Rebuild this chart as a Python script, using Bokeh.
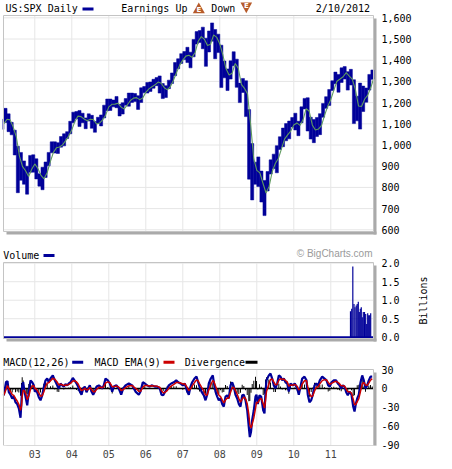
import numpy as np
import pandas as pd
from bokeh.plotting import figure
from bokeh.layouts import column, row
from bokeh.models import Range1d, FixedTicker, NumeralTickFormatter, LinearAxis
from bokeh.core.properties import value
from bokeh.embed import file_html
from bokeh.resources import INLINE

# ---------------- data ----------------
months = pd.period_range("2002-02", "2012-02", freq="M").strftime("%Y-%m").tolist()

price_high = [1122, 1173, 1147, 1107, 1070, 994, 965, 925, 900, 951, 954,
              935, 864, 895, 920, 965, 1015, 1015, 1011, 1040, 1053, 1063, 1112,
              1155, 1158, 1163, 1150, 1128, 1147, 1140, 1111, 1131, 1142, 1188, 1217,
              1217, 1212, 1229, 1192, 1199, 1219, 1245, 1245, 1243, 1233, 1270, 1276,
              1295, 1297, 1310, 1318, 1326, 1290, 1280, 1306, 1340, 1389, 1407, 1431,
              1441, 1461, 1438, 1498, 1535, 1540, 1556, 1504, 1538, 1576, 1545, 1523,
              1471, 1396, 1359, 1397, 1440, 1405, 1292, 1314, 1303, 1167, 1007, 919,
              944, 877, 833, 875, 930, 957, 997, 1039, 1080, 1101, 1113, 1130,
              1150, 1112, 1180, 1220, 1223, 1131, 1120, 1130, 1148, 1196, 1228, 1262,
              1303, 1344, 1333, 1364, 1370, 1346, 1357, 1308, 1230, 1292, 1278, 1269,
              1333, 1354]
price_low = [1074, 1106, 1063, 1048, 953, 775, 834, 815, 768, 872, 872,
             840, 806, 789, 847, 902, 963, 962, 960, 990, 996, 1031, 1053,
             1105, 1124, 1087, 1105, 1077, 1113, 1079, 1060, 1101, 1090, 1128, 1162,
             1163, 1180, 1176, 1137, 1146, 1188, 1183, 1201, 1205, 1168, 1201, 1246,
             1245, 1253, 1268, 1280, 1245, 1219, 1224, 1266, 1290, 1327, 1360, 1385,
             1403, 1389, 1364, 1416, 1476, 1484, 1454, 1371, 1439, 1490, 1407, 1436,
             1271, 1317, 1257, 1311, 1374, 1272, 1200, 1248, 1134, 839, 741, 815,
             804, 731, 667, 783, 863, 889, 869, 979, 992, 1020, 1029, 1085,
             1071, 1044, 1105, 1170, 1066, 1028, 1011, 1040, 1049, 1131, 1173, 1187,
             1257, 1289, 1249, 1295, 1311, 1259, 1283, 1101, 1114, 1075, 1158, 1202,
             1259, 1310]
price_close = [1106, 1147, 1076, 1067, 990, 912, 916, 815, 885, 936, 880,
               855, 841, 848, 916, 964, 975, 990, 1008, 996, 1051, 1058, 1112,
               1131, 1145, 1126, 1107, 1121, 1141, 1102, 1104, 1115, 1130, 1174, 1212,
               1181, 1204, 1181, 1157, 1191, 1191, 1234, 1220, 1228, 1207, 1249, 1248,
               1280, 1281, 1295, 1311, 1270, 1270, 1277, 1304, 1336, 1378, 1401, 1418,
               1438, 1407, 1421, 1482, 1531, 1503, 1455, 1474, 1527, 1549, 1481, 1468,
               1379, 1331, 1323, 1386, 1400, 1280, 1267, 1283, 1166, 969, 896, 903,
               826, 735, 798, 873, 919, 919, 987, 1021, 1057, 1036, 1096, 1115,
               1074, 1104, 1169, 1187, 1089, 1031, 1102, 1049, 1141, 1183, 1181, 1258,
               1286, 1327, 1326, 1364, 1345, 1321, 1292, 1219, 1131, 1253, 1247, 1258,
               1312, 1343]

macd_dates = [2002.162, 2002.222, 2002.262, 2002.297, 2002.343, 2002.389, 2002.432, 2002.478,
              2002.524, 2002.568, 2002.614, 2002.641, 2002.659, 2002.686, 2002.722, 2002.768,
              2002.795, 2002.838, 2002.884, 2002.930, 2002.973, 2003.000, 2003.046, 2003.108,
              2003.154, 2003.200, 2003.243, 2003.289, 2003.335, 2003.378, 2003.424, 2003.487,
              2003.541, 2003.605, 2003.649, 2003.695, 2003.741, 2003.784, 2003.830, 2003.876,
              2003.919, 2003.965, 2004.027, 2004.073, 2004.127, 2004.173, 2004.216, 2004.262,
              2004.308, 2004.351, 2004.397, 2004.443, 2004.487, 2004.532, 2004.578, 2004.622,
              2004.668, 2004.730, 2004.776, 2004.822, 2004.865, 2004.911, 2004.973, 2005.027,
              2005.092, 2005.135, 2005.208, 2005.270, 2005.335, 2005.389, 2005.451, 2005.541,
              2005.632, 2005.722, 2005.811, 2005.857, 2005.919, 2005.973, 2006.038, 2006.100,
              2006.173, 2006.243, 2006.308, 2006.378, 2006.424, 2006.470, 2006.514, 2006.578,
              2006.622, 2006.687, 2006.757, 2006.822, 2006.876, 2006.938, 2007.000, 2007.054,
              2007.119, 2007.162, 2007.208, 2007.254, 2007.316, 2007.370, 2007.416, 2007.451,
              2007.505, 2007.568, 2007.614, 2007.659, 2007.703, 2007.757, 2007.811, 2007.838,
              2007.884, 2007.930, 2007.973, 2008.019, 2008.065, 2008.108, 2008.154, 2008.200,
              2008.243, 2008.289, 2008.335, 2008.378, 2008.424, 2008.470, 2008.514, 2008.559,
              2008.605, 2008.649, 2008.695, 2008.741, 2008.784, 2008.811, 2008.843, 2008.876,
              2008.919, 2008.965, 2008.992, 2009.027, 2009.073, 2009.119, 2009.173, 2009.208,
              2009.235, 2009.262, 2009.324, 2009.370, 2009.416, 2009.459, 2009.505, 2009.551,
              2009.595, 2009.641, 2009.687, 2009.730, 2009.776, 2009.822, 2009.865, 2009.911,
              2009.973, 2010.027, 2010.092, 2010.135, 2010.181, 2010.227, 2010.289, 2010.343,
              2010.378, 2010.424, 2010.470, 2010.514, 2010.559, 2010.605, 2010.659, 2010.703,
              2010.768, 2010.830, 2010.884, 2010.930, 2010.973, 2011.019, 2011.081, 2011.146,
              2011.189, 2011.235, 2011.281, 2011.324, 2011.370, 2011.416, 2011.459, 2011.505,
              2011.559, 2011.605, 2011.641, 2011.676, 2011.714, 2011.757, 2011.803, 2011.849,
              2011.892, 2011.938, 2011.984, 2012.027, 2012.073, 2012.119]
macd_values = [-11, 10, 12, -6, -10, -16, -13, -22,
               -25, -32, -47, -19, 5, 10, -5, -19,
               -27, -5, 13, 10, 5, -5, -3, -14,
               -19, -11, 2, 13, 16, 10, 16, 21,
               13, 5, 0, 8, 5, 3, 7, 5,
               8, 10, 17, 13, 8, 3, -5, -10,
               0, 3, -6, 0, 5, -5, -10, -5,
               3, 5, 3, 0, 5, 16, 13, 8,
               -5, 3, 5, 0, -10, 0, 5, 8,
               5, -5, -10, -5, 10, 8, 5, 3,
               5, 3, 3, 0, -10, -11, -6, 0,
               5, 8, 10, 13, 10, 8, 5, 8,
               -5, -10, 3, 10, 16, 19, 10, 3,
               -5, -11, -19, -10, 8, 16, 21, 10,
               -5, -13, -19, -16, -25, -29, -13, -11,
               -16, 5, 10, 3, -10, -16, -25, -29,
               -11, -10, -19, -35, -62, -78, -70, -50,
               -35, -13, -10, -25, -11, -13, -35, -40,
               -5, 13, 21, 24, 16, 5, 0, 8,
               21, 19, 13, 16, 10, 8, -5, 8,
               5, 8, 0, -10, 3, 16, 19, 13,
               -10, -22, -19, -10, 5, 8, 5, 13,
               19, 16, 13, 5, 3, 10, 13, 13,
               8, 5, 0, 5, 3, -6, -11, -5,
               -10, -29, -37, -25, -16, -10, 10, 21,
               13, 0, 5, 13, 19, 19]

volume_dates = [2011.532, 2011.565, 2011.595, 2011.627, 2011.654, 2011.687, 2011.714, 2011.743,
                2011.770, 2011.797, 2011.824, 2011.851, 2011.878, 2011.911, 2011.943, 2011.970,
                2011.997, 2012.024, 2012.051, 2012.078]
volume_billions = [0.70, 0.77, 1.91, 0.90, 0.81, 0.86, 0.90, 0.96,
                   0.68, 0.77, 0.81, 0.54, 0.68, 0.68, 0.63, 0.36,
                   0.65, 0.59, 0.59, 0.65]

year_ticks = [2003, 2004, 2005, 2006, 2007, 2008, 2009, 2010, 2011]
year_labels = ["03", "04", "05", "06", "07", "08", "09", "10", "11"]
price_ticks = [600, 700, 800, 900, 1000, 1100, 1200, 1300, 1400, 1500, 1600]
volume_ticks = [0.0, 0.5, 1.0, 1.5, 2.0]
macd_ticks = [30, 0, -30, -60, -90]

# ---------------- styling / layout ----------------
NAVY = "#000099"
RED = "#cc0000"
GREEN = "#5f9a5f"
GRID = "#e6e6e6"
BORDER = "#c4c4c4"
SHADOW = "#aaaaaa"
EARN = "#b65a2a"
MONO = "DejaVu Sans Mono"
FS = "10px"

ORIGIN = 0           # page position of the layout
PANEL_L, PANEL_R = 3, 373
FRAME_L, FRAME_R = 2, 377
PX_YEAR = 37.0
X0 = 2002.154        # date at the left edge of the panels
FRAME_W = FRAME_R - FRAME_L
FIG_W = (FRAME_L - ORIGIN) + FRAME_W + 60
LABEL_STANDOFF = 4


def xd(px):
    return X0 + (px - PANEL_L) / PX_YEAR


X1 = xd(PANEL_R)


def make_yd(top, bottom, y0, y1):
    def f(py):
        return y1 - (py - top) * (y1 - y0) / (bottom - top)
    return f


mp = pd.PeriodIndex(months, freq="M")
t_mid = mp.year + (mp.month - 0.5) / 12.0
t_end = mp.year + mp.month / 12.0
hi = np.array(price_high, float)
lo = np.array(price_low, float)
cl = np.array(price_close, float)
ma = pd.Series((hi + lo + cl) / 3.0).rolling(2, min_periods=1).mean().values

macd = pd.Series(macd_values, dtype=float)
signal = macd.ewm(alpha=0.45, adjust=False).mean()
diverg = macd - signal


def base_fig(fig_top, height, bottom_border, yd, width=FIG_W):
    fr_bot = fig_top + height - bottom_border
    p = figure(width=width, height=height, output_backend="svg", toolbar_location=None,
               x_range=Range1d(xd(FRAME_L), xd(FRAME_R)),
               y_range=Range1d(yd(fr_bot), yd(fig_top)),
               x_axis_location=None, y_axis_location=None,
               min_border_left=FRAME_L - ORIGIN,
               min_border_right=width - FRAME_W - (FRAME_L - ORIGIN),
               min_border_top=0, min_border_bottom=bottom_border)
    p.outline_line_color = None
    p.background_fill_color = "white"
    p.border_fill_color = "white"
    p.xgrid.visible = False
    p.ygrid.visible = False
    return p


def panel(p, yd, top, bottom, hgrid):
    yt, yb = yd(top), yd(bottom)
    p.quad(left=[X1], right=[xd(PANEL_R + 3)], top=[yd(top + 3)], bottom=[yd(bottom + 3)],
           fill_color=SHADOW, line_color=None)
    p.quad(left=[xd(PANEL_L + 3)], right=[xd(PANEL_R + 3)], top=[yb], bottom=[yd(bottom + 3)],
           fill_color=SHADOW, line_color=None)
    p.quad(left=[X0], right=[X1], top=[yt], bottom=[yb], fill_color="white", line_color=None)
    p.segment(x0=year_ticks, x1=year_ticks, y0=[yb] * len(year_ticks), y1=[yt] * len(year_ticks),
              line_color=GRID, line_width=1)
    p.segment(x0=[X0] * len(hgrid), x1=[X1] * len(hgrid), y0=hgrid, y1=hgrid,
              line_color=GRID, line_width=1)


def outline(p, yd, top, bottom):
    p.quad(left=[X0], right=[X1], top=[yd(top)], bottom=[yd(bottom)],
           fill_color=None, line_color=BORDER, line_width=1)


def right_axis(p, ticks, fmt):
    ax = LinearAxis(ticker=FixedTicker(ticks=ticks), formatter=NumeralTickFormatter(format=fmt))
    ax.axis_line_color = None
    ax.major_tick_line_color = None
    ax.minor_tick_line_color = None
    ax.major_tick_out = 0
    ax.major_tick_in = 0
    ax.major_label_standoff = LABEL_STANDOFF
    ax.major_label_text_font = MONO
    ax.major_label_text_font_size = FS
    ax.major_label_text_color = "black"
    p.add_layout(ax, "right")
    return ax


def txt(p, yd, px, py, s, align="left", color="black", font=MONO, size=FS, style="normal"):
    p.text(x=[xd(px)], y=[yd(py)], text=[s], text_font=value(font), text_font_size=value(size),
           text_color=color, text_align=align, text_baseline="middle", text_font_style=style)


def dash(p, yd, x0, x1, py, color):
    p.quad(left=[xd(x0)], right=[xd(x1)], top=[yd(py - 1.5)], bottom=[yd(py + 1.5)],
           fill_color=color, line_color=None)


# ---------------- price panel ----------------
F1_TOP, F1_H = ORIGIN, 240
P_TOP, P_BOT = 15, 231
yd1 = make_yd(P_TOP, P_BOT, 592, 1611)
p1 = base_fig(F1_TOP, F1_H, 0, yd1)
right_axis(p1, price_ticks, "0,0")
panel(p1, yd1, P_TOP, P_BOT, price_ticks)
p1.vbar(x=t_mid, width=1 / 12.0, top=hi, bottom=lo,
        fill_color=NAVY, line_color=NAVY, line_width=0.5)
p1.line(t_end, ma, line_color=GREEN, line_width=1.1)
outline(p1, yd1, P_TOP, P_BOT)
txt(p1, yd1, 5, 8.3, "US:SPX Daily")
dash(p1, yd1, 82, 93, 8.5, NAVY)
txt(p1, yd1, 120.7, 8.3, "Earnings Up")
p1.patch([xd(192.3), xd(204.3), xd(198.3)], [yd1(12.7), yd1(12.7), yd1(2)],
         fill_color=EARN, line_color=None)
txt(p1, yd1, 198.4, 9.4, "E", align="center", color="white", font="DejaVu Sans", size="7px",
    style="bold")
txt(p1, yd1, 210.7, 8.3, "Down")
p1.patch([xd(240), xd(251.6), xd(245.8)], [yd1(2), yd1(2), yd1(12.7)],
         fill_color=EARN, line_color=None)
txt(p1, yd1, 245.9, 5.6, "E", align="center", color="white", font="DejaVu Sans", size="7px",
    style="bold")
txt(p1, yd1, 369.5, 8.3, "2/10/2012", align="right")

# ---------------- volume panel ----------------
F2_TOP, F2_H = F1_TOP + F1_H, 105
V_TOP, V_BOT = 262, 338
yd2 = make_yd(V_TOP, V_BOT, -0.035, 2.019)
P2_W = (FRAME_L - ORIGIN) + FRAME_W + 33
p2 = base_fig(F2_TOP, F2_H, 0, yd2, width=P2_W)
right_axis(p2, volume_ticks, "0.0")
panel(p2, yd2, V_TOP, V_BOT, [0.5, 1.0, 1.5, 2.0])
p2.vbar(x=volume_dates, width=0.032, top=volume_billions, bottom=0,
        fill_color=NAVY, line_color=None)
p2.segment(x0=[X0], x1=[X1], y0=[0], y1=[0], line_color=NAVY, line_width=2)
outline(p2, yd2, V_TOP, V_BOT)
txt(p2, yd2, 2.7, 255, "Volume")
dash(p2, yd2, 43, 54, 255, NAVY)
txt(p2, yd2, 372, 252.7, "\u00a9 BigCharts.com", align="right", color="#9a9a9a",
    font="Liberation Sans", size="10px")

# side strip holding the rotated unit label of the volume axis
PB_W = FIG_W - P2_W
PB_X0 = ORIGIN + P2_W
pb = figure(width=PB_W, height=F2_H, output_backend="svg", toolbar_location=None,
            x_range=Range1d(PB_X0, PB_X0 + PB_W), y_range=Range1d(F2_TOP + F2_H, F2_TOP),
            x_axis_location=None, y_axis_location=None,
            min_border_left=0, min_border_right=0, min_border_top=0, min_border_bottom=0)
pb.outline_line_color = None
pb.xgrid.visible = False
pb.ygrid.visible = False
pb.text(x=[422.7], y=[300], text=["Billions"], angle=np.pi / 2, text_font=value(MONO),
        text_font_size=value(FS), text_color="black", text_align="center",
        text_baseline="middle")

# ---------------- MACD panel ----------------
F3_TOP, F3_H = F2_TOP + F2_H, 122
M_TOP, M_BOT = 369, 445
yd3 = make_yd(M_TOP, M_BOT, -91.6, 30.5)
p3 = base_fig(F3_TOP, F3_H, F3_TOP + F3_H - M_BOT, yd3)
right_axis(p3, macd_ticks, "0")
xa = LinearAxis(ticker=FixedTicker(ticks=year_ticks),
                major_label_overrides={y: l for y, l in zip(year_ticks, year_labels)})
xa.axis_line_color = None
xa.major_tick_line_color = None
xa.minor_tick_line_color = None
xa.major_tick_out = 0
xa.major_tick_in = 0
xa.major_label_standoff = 4
xa.major_label_text_font = MONO
xa.major_label_text_font_size = FS
p3.add_layout(xa, "below")
panel(p3, yd3, M_TOP, M_BOT, [-60, -30])
p3.vbar(x=macd_dates, width=0.026, top=diverg.values, bottom=0,
        fill_color="black", line_color=None)
p3.segment(x0=[X0], x1=[X1], y0=[0], y1=[0], line_color="black", line_width=1.5)
p3.line(macd_dates, macd.values, line_color=NAVY, line_width=2.2)
p3.line(macd_dates, signal.values, line_color=RED, line_width=1.5)
outline(p3, yd3, M_TOP, M_BOT)
txt(p3, yd3, 2.7, 361.7, "MACD(12,26)")
dash(p3, yd3, 71.7, 82.7, 361.7, NAVY)
txt(p3, yd3, 94, 361.7, "MACD EMA(9)")
dash(p3, yd3, 163, 174, 361.7, RED)
txt(p3, yd3, 184.3, 361.7, "Divergence")
dash(p3, yd3, 245, 257, 361.7, "black")

root = column(p1, row(p2, pb, spacing=0), p3, spacing=0)
open("out.html", "w").write(file_html(root, INLINE))
